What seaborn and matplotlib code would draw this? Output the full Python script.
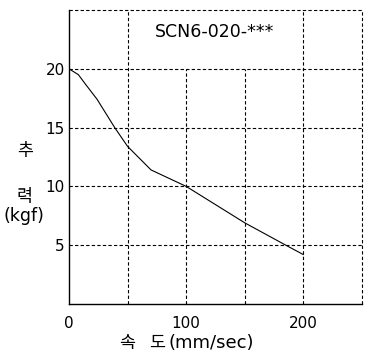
import matplotlib
matplotlib.use('Agg')
import matplotlib.pyplot as plt
import seaborn as sns
import pandas as pd

# speed (mm/sec) vs thrust (kgf)
speed = [0, 8, 14, 24, 39, 50, 70, 100, 150, 185, 200]
force = [20.0, 19.5, 18.7, 17.4, 15.0, 13.4, 11.4, 10.0, 6.9, 5.0, 4.2]

xticks = [0, 100, 200]
yticks = [5, 10, 15, 20]
title = 'SCN6-020-***'

sns.set_style('white')
plt.rcParams['font.family'] = ['DejaVu Sans', 'Noto Sans CJK KR']
plt.rcParams['text.color'] = 'black'

df = pd.DataFrame({'speed': speed, 'force': force})

fig = plt.figure(figsize=(3.73, 3.61), dpi=100)
ax = fig.add_axes([69 / 373, 57 / 361, 293 / 373, 294 / 361])

sns.lineplot(data=df, x='speed', y='force', color='black', lw=0.8, ax=ax, zorder=3)

ax.set_xlim(0, 250)
ax.set_ylim(0, 25)

# dashed grid, the box behind the title hides part of it
dash = dict(colors='black', linestyles=(0, (3, 2)), lw=0.8, clip_on=False, zorder=1)
ax.hlines([5, 10, 15, 20, 25], 0, 250, **dash)
ax.vlines([50, 200, 250], 0, 25, **dash)
ax.vlines([100, 150], 0, 20, **dash)

for s in ['top', 'right']:
    ax.spines[s].set_visible(False)
for s in ['left', 'bottom']:
    ax.spines[s].set_color('black')
    ax.spines[s].set_linewidth(1.0)

ax.set_xticks(xticks)
ax.set_xticklabels([str(t) for t in xticks])
ax.set_yticks(yticks)
ax.set_yticklabels([str(t) for t in yticks])
ax.tick_params(length=0, labelsize=11, colors='black')
ax.tick_params(axis='x', pad=9)
ax.tick_params(axis='y', pad=3)
ax.set_xlabel('')
ax.set_ylabel('')

ax.text(124, 23.1, title, ha='center', va='center', fontsize=12.5)

kr = ['Noto Sans CJK KR', 'DejaVu Sans']
fig.text(127 / 373, 1 - 343 / 361, '속', ha='center', va='center', fontsize=12.5, family=kr)
fig.text(157 / 373, 1 - 343 / 361, '도', ha='center', va='center', fontsize=12.5, family=kr)
fig.text(211 / 373, 1 - 343 / 361, '(mm/sec)', ha='center', va='center', fontsize=13)
fig.text(25 / 373, 1 - 151 / 361, '추', ha='center', va='center', fontsize=12.5, family=kr)
fig.text(25 / 373, 1 - 197 / 361, '력', ha='center', va='center', fontsize=12.5, family=kr)
fig.text(24 / 373, 1 - 216 / 361, '(kgf)', ha='center', va='center', fontsize=12.5)

plt.savefig('out.png', dpi=100)
